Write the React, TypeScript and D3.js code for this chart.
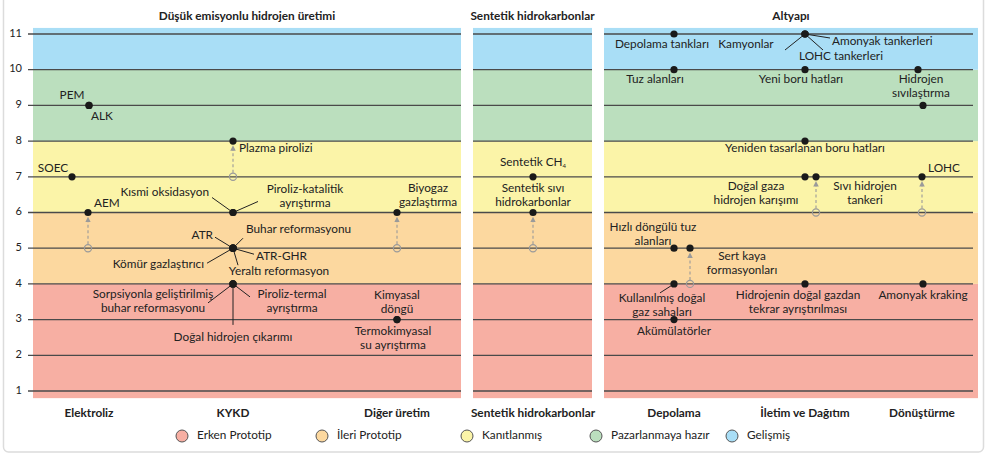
import React from 'react';
import * as d3 from 'd3';

// readiness bands (TRL thresholds) and their legend names
const levelNames = ['Erken Prototip', 'İleri Prototip', 'Kanıtlanmış', 'Pazarlanmaya hazır', 'Gelişmiş'];
const levelColors = ['#f7afa3', '#fcd89f', '#fbf4a8', '#bbdfbe', '#a9def6'];
const levelBreaks = [4, 6, 8, 10];
const yTicks = [1, 2, 3, 4, 5, 6, 7, 8, 9, 10, 11];

const panelTitles = ['Düşük emisyonlu hidrojen üretimi', 'Sentetik hidrokarbonlar', 'Altyapı'];
const categories = ['Elektroliz', 'KYKD', 'Diğer üretim', 'Sentetik hidrokarbonlar', 'Depolama', 'İletim ve Dağıtım', 'Dönüştürme'];

// [name, category, trl, previous trl]
const technologies: [string, string, number, number | null][] = [
  ['PEM', 'Elektroliz', 9, null],
  ['ALK', 'Elektroliz', 9, null],
  ['SOEC', 'Elektroliz', 7, null],
  ['AEM', 'Elektroliz', 6, 5],
  ['Plazma pirolizi', 'KYKD', 8, 7],
  ['Kısmi oksidasyon', 'KYKD', 6, null],
  ['Piroliz-katalitik\nayrıştırma', 'KYKD', 6, null],
  ['ATR', 'KYKD', 5, null],
  ['Buhar reformasyonu', 'KYKD', 5, null],
  ['ATR-GHR', 'KYKD', 5, null],
  ['Kömür gazlaştırıcı', 'KYKD', 5, null],
  ['Yeraltı reformasyon', 'KYKD', 5, null],
  ['Sorpsiyonla geliştirilmiş\nbuhar reformasyonu', 'KYKD', 4, null],
  ['Piroliz-termal\nayrıştırma', 'KYKD', 4, null],
  ['Doğal hidrojen çıkarımı', 'KYKD', 4, null],
  ['Biyogaz\ngazlaştırma', 'Diğer üretim', 6, 5],
  ['Kimyasal\ndöngü', 'Diğer üretim', 3, null],
  ['Termokimyasal\nsu ayrıştırma', 'Diğer üretim', 3, null],
  ['Sentetik CH4', 'Sentetik hidrokarbonlar', 7, null],
  ['Sentetik sıvı\nhidrokarbonlar', 'Sentetik hidrokarbonlar', 6, 5],
  ['Depolama tankları', 'Depolama', 11, null],
  ['Tuz alanları', 'Depolama', 10, null],
  ['Hızlı döngülü tuz\nalanları', 'Depolama', 5, null],
  ['Sert kaya\nformasyonları', 'Depolama', 5, 4],
  ['Kullanılmış doğal\ngaz sahaları', 'Depolama', 4, null],
  ['Akümülatörler', 'Depolama', 3, null],
  ['Kamyonlar', 'İletim ve Dağıtım', 11, null],
  ['Amonyak tankerleri', 'İletim ve Dağıtım', 11, null],
  ['LOHC tankerleri', 'İletim ve Dağıtım', 11, null],
  ['Yeni boru hatları', 'İletim ve Dağıtım', 10, null],
  ['Yeniden tasarlanan boru hatları', 'İletim ve Dağıtım', 8, null],
  ['Doğal gaza\nhidrojen karışımı', 'İletim ve Dağıtım', 7, null],
  ['Sıvı hidrojen\ntankeri', 'İletim ve Dağıtım', 7, 6],
  ['Hidrojenin doğal gazdan\ntekrar ayrıştırılması', 'İletim ve Dağıtım', 4, null],
  ['', 'Dönüştürme', 10, null],
  ['Hidrojen\nsıvılaştırma', 'Dönüştürme', 9, null],
  ['LOHC', 'Dönüştürme', 7, 6],
  ['Amonyak kraking', 'Dönüştürme', 4, null],
];

// ---- layout ----
const W = 989;
const H = 458;
const panelX: [number, number][] = [[33, 461], [473, 592], [604, 978]];
const gridX: [number, number][] = [[28, 461], [473, 592], [604, 973]];
const columnX = [89, 233, 397, 533, 674, 805, 922];

type Lay = { dx?: number; lx: number; ly: number; a?: string; lead?: [number, number] };
const labelLayout: Record<string, Lay> = {
  'PEM': { lx: -17, ly: -9 },
  'ALK': { lx: 13, ly: 12 },
  'SOEC': { dx: -17, lx: -19, ly: -8 },
  'AEM': { dx: -1, lx: 6, ly: -9, a: 'start' },
  'Plazma pirolizi': { lx: 6, ly: 8, a: 'start' },
  'Kısmi oksidasyon': { lx: -24, ly: -20, a: 'end', lead: [-21, -15] },
  'Piroliz-katalitik\nayrıştırma': { lx: 72, ly: -23, lead: [25, -11] },
  'ATR': { lx: -20, ly: -12, a: 'end', lead: [-18, -11] },
  'Buhar reformasyonu': { lx: 13, ly: -18, a: 'start', lead: [10, -10] },
  'ATR-GHR': { lx: 23, ly: 9, a: 'start', lead: [21, 6] },
  'Kömür gazlaştırıcı': { lx: -29, ly: 17, a: 'end', lead: [-26, 15] },
  'Yeraltı reformasyon': { lx: 46, ly: 24, lead: [5, 17] },
  'Sorpsiyonla geliştirilmiş\nbuhar reformasyonu': { lx: -80, ly: 11, lead: [-25, 19] },
  'Piroliz-termal\nayrıştırma': { lx: 59, ly: 11, lead: [17, 13] },
  'Doğal hidrojen çıkarımı': { lx: 0, ly: 54, lead: [0, 41] },
  'Biyogaz\ngazlaştırma': { lx: 31, ly: -23.5 },
  'Kimyasal\ndöngü': { lx: 0, ly: -24 },
  'Termokimyasal\nsu ayrıştırma': { lx: -4, ly: 12 },
  'Sentetik CH4': { lx: 0, ly: -14 },
  'Sentetik sıvı\nhidrokarbonlar': { lx: 0, ly: -23.5 },
  'Depolama tankları': { lx: -12, ly: 11 },
  'Tuz alanları': { lx: -19, ly: 10 },
  'Hızlı döngülü tuz\nalanları': { lx: -21, ly: -20 },
  'Sert kaya\nformasyonları': { dx: 16, lx: 52, ly: 9 },
  'Kullanılmış doğal\ngaz sahaları': { lx: -12, ly: 15, lead: [-14, 9] },
  'Akümülatörler': { lx: 0, ly: 12 },
  'Kamyonlar': { lx: -59, ly: 11, lead: [-20, 16] },
  'Amonyak tankerleri': { lx: 27, ly: 8, a: 'start', lead: [25, 4] },
  'LOHC tankerleri': { lx: 36, ly: 23, lead: [18, 16] },
  'Yeni boru hatları': { lx: -4, ly: 10 },
  'Yeniden tasarlanan boru hatları': { lx: 0, ly: 8 },
  'Doğal gaza\nhidrojen karışımı': { lx: -49, ly: 10 },
  'Sıvı hidrojen\ntankeri': { dx: 11, lx: 49, ly: 10 },
  'Hidrojenin doğal gazdan\ntekrar ayrıştırılması': { lx: -7, ly: 12 },
  '': { dx: -4, lx: 0, ly: 0 },
  'Hidrojen\nsıvılaştırma': { dx: 1, lx: -2, ly: -25 },
  'LOHC': { lx: 6, ly: -8, a: 'start' },
  'Amonyak kraking': { dx: 1, lx: 0, ly: 12 },
};

const legendX = [182, 322, 467, 596, 732];

const FONT = 'Lato, "Noto Sans", sans-serif';
const INK = '#222';
const FS = 11.8;

export default function App() {
  const y = d3.scaleLinear().domain([1, 11]).range([391, 34]);
  const xCol = d3.scaleOrdinal<string, number>().domain(categories).range(columnX);
  const bandEdges = [0.8, ...levelBreaks, 11.17];

  const renderLabel = (name: string, x: number, yy: number, anchor: string) => {
    const lines = name.split('\n');
    return (
      <text x={x} y={yy} textAnchor={anchor} fontSize={FS} fill={INK} fontFamily={FONT} dominantBaseline="middle">
        {lines.map((ln, i) => (
          <tspan key={i} x={x} dy={i === 0 ? 0 : 14}>
            {ln === 'Sentetik CH4' ? (
              <>
                Sentetik CH<tspan fontSize={6} dy={3}>4</tspan>
              </>
            ) : ln}
          </tspan>
        ))}
      </text>
    );
  };

  return (
    <div style={{ position: 'absolute', left: 0, top: 0 }}>
      <svg width={W} height={H} style={{ display: 'block', background: '#fff' }}>
        <defs>
          <marker id="arr" viewBox="0 0 6 6" refX="3" refY="3" markerWidth="5" markerHeight="5" orient="auto">
            <path d="M0,0 L6,3 L0,6 Z" fill="#9a9a9a" />
          </marker>
        </defs>
        <rect x={3.5} y={-6} width={980} height={458} rx={5} fill="none" stroke="#dcdcdc" strokeWidth={1.5} />

        {panelX.map(([x0, x1], p) => (
          <g key={p}>
            {levelColors.map((c, i) => (
              <rect key={i} x={x0} width={x1 - x0} y={y(bandEdges[i + 1])} height={y(bandEdges[i]) - y(bandEdges[i + 1])} fill={c} />
            ))}
            {yTicks.map(t => (
              <line key={t} x1={gridX[p][0]} x2={gridX[p][1]} y1={y(t)} y2={y(t)} stroke="#4a4a4a" strokeWidth={1.3} />
            ))}
            <text x={(x0 + x1) / 2} y={17} textAnchor="middle" fontSize={FS} fontWeight={700} fill={INK} fontFamily={FONT} dominantBaseline="middle">
              {panelTitles[p]}
            </text>
          </g>
        ))}

        {yTicks.map(t => (
          <text key={t} x={22} y={y(t)} textAnchor="end" fontSize={11} fill={INK} fontFamily={FONT} dominantBaseline="middle">{t}</text>
        ))}

        {categories.map(c => (
          <text key={c} x={xCol(c)} y={414} textAnchor="middle" fontSize={FS} fontWeight={700} fill={INK} fontFamily={FONT} dominantBaseline="middle">{c}</text>
        ))}

        {technologies.map(([name, cat, trl, from]) => {
          const lay = labelLayout[name];
          const cx = xCol(cat) + (lay.dx ?? 0);
          const cy = y(trl);
          return (
            <g key={name + cat + trl}>
              {from !== null && (
                <g>
                  <line x1={cx} x2={cx} y1={y(from) - 4} y2={cy + 7} stroke="#9a9a9a" strokeWidth={1.1} strokeDasharray="3,2.5" markerEnd="url(#arr)" />
                  <circle cx={cx} cy={y(from)} r={3.6} fill="none" stroke="#9a9a9a" strokeWidth={1.2} />
                </g>
              )}
              {lay.lead && <line x1={cx} y1={cy} x2={cx + lay.lead[0]} y2={cy + lay.lead[1]} stroke={INK} strokeWidth={1} />}
              <circle cx={cx} cy={cy} r={3.6} fill="#1a1a1a" />
              {name && renderLabel(name, cx + lay.lx, cy + lay.ly, lay.a ?? 'middle')}
            </g>
          );
        })}

        {levelNames.map((n, i) => (
          <g key={n}>
            <circle cx={legendX[i]} cy={436} r={6} fill={levelColors[i]} stroke="#555" strokeWidth={1} />
            <text x={legendX[i] + 15} y={436} fontSize={FS} fill={INK} fontFamily={FONT} dominantBaseline="middle">{n}</text>
          </g>
        ))}
      </svg>
    </div>
  );
}
